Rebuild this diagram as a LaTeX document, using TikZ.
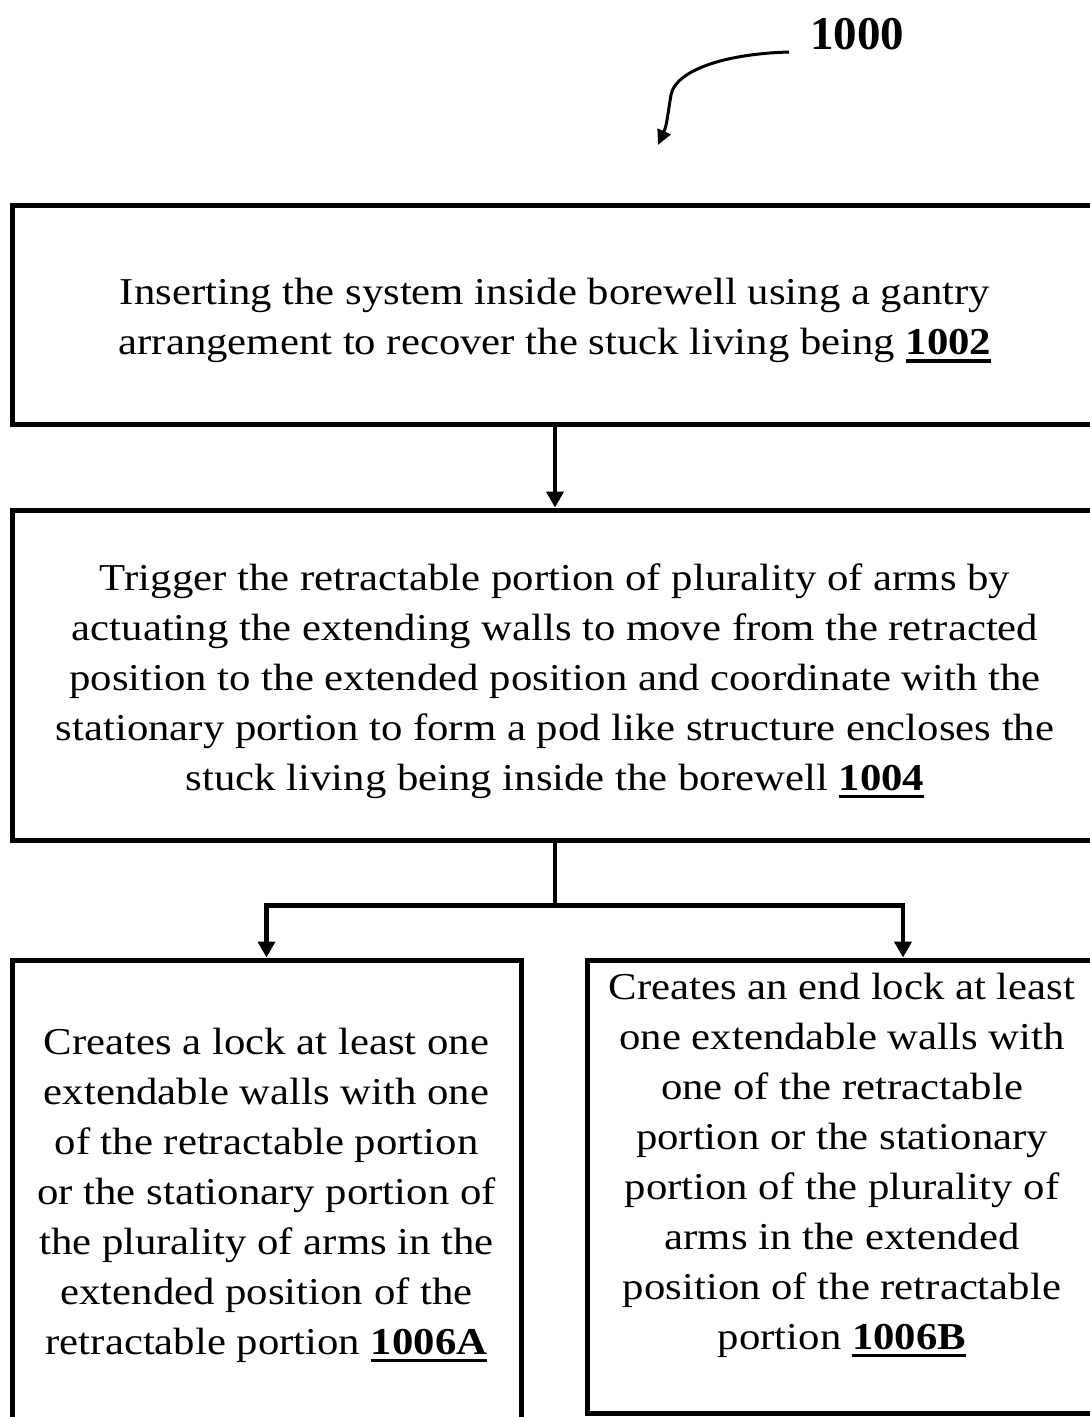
\documentclass[tikz,border=0pt]{standalone}
\usepackage{fontspec}
\setmainfont{Liberation Serif}[FakeStretch=1.125]
\newfontfamily\lblfont{Liberation Serif}
\usetikzlibrary{arrows.meta}
\newcommand\ulnum[1]{\setbox0\hbox{\bfseries #1}\rlap{\bfseries #1}\rule[-8pt]{\wd0}{3.5pt}}
\tikzset{
  box/.style={draw, line width=5pt, inner sep=0pt},
  txt/.style={inner sep=0pt, align=center, font=\fontsize{38}{50}\selectfont},
  conn/.style={line width=4.5pt, -{Triangle[length=16pt,width=17pt]}},
  refarrow/.style={line width=3pt, -{Triangle[length=15pt,width=14pt]}}
}
\begin{document}
\begin{tikzpicture}[x=1pt,y=-1pt]
\clip (0,0) rectangle (1090,1417);
\useasboundingbox (0,0) rectangle (1090,1417);
\node[font=\fontsize{47}{50}\lblfont\bfseries, inner sep=0pt] (lbl) at (857,34) {1000};
\coordinate (c1) at (789,52);
\coordinate (c2) at (658,145);
\draw[refarrow] (c1) .. controls (720,54) and (675,72) .. (671,95) .. controls (668,112) and (667,125) .. (c2);

\node[box, minimum width=1086pt, minimum height=219pt] (b1) at (555,314.5) {};
\node[txt] (t1) at (555,320.5)
  {Inserting the system inside borewell using a gantry\\
   arrangement to recover the stuck living being \ulnum{1002}};
\node[box, minimum width=1086pt, minimum height=330pt] (b2) at (555,675) {};
\node[txt] (t2) at (555,681)
  {Trigger the retractable portion of plurality of arms by\\
   actuating the extending walls to move from the retracted\\
   position to the extended position and coordinate with the\\
   stationary portion to form a pod like structure encloses the\\
   stuck living being inside the borewell \ulnum{1004}};
\node[box, minimum width=509pt, minimum height=470pt] (bA) at (266.5,1195) {};
\node[txt] (tA) at (266.5,1195)
  {Creates a lock at least one\\
   extendable walls with one\\
   of the retractable portion\\
   or the stationary portion of\\
   the plurality of arms in the\\
   extended position of the\\
   retractable portion \ulnum{1006A}};
\node[box, minimum width=510pt, minimum height=453pt] (bB) at (842,1186.5) {};
\node[txt] (tB) at (842,1165)
  {Creates an end lock at least\\
   one extendable walls with\\
   one of the retractable\\
   portion or the stationary\\
   portion of the plurality of\\
   arms in the extended\\
   position of the retractable\\
   portion \ulnum{1006B}};

\draw[conn] (b1.south) -- (b2.north);
\draw[line width=4.5pt] (b2.south) -- ++(0,63) coordinate (j);
\draw[conn] (j) -| (bA.north);
\draw[conn] (j) -| ([xshift=61pt]bB.north);
\end{tikzpicture}
\end{document}
